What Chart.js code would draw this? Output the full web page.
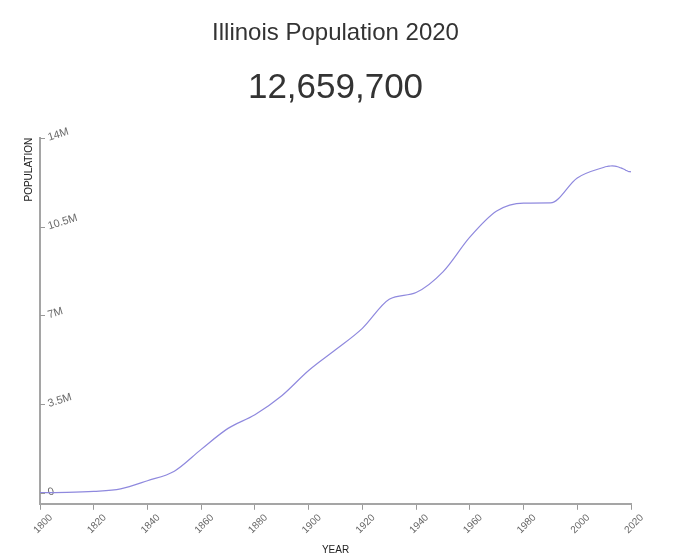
<!DOCTYPE html>
<html>
<head>
<meta charset="utf-8">
<title>Illinois Population</title>
<script src="https://cdn.jsdelivr.net/npm/chart.js@4"></script>
<style>
  html, body { margin: 0; padding: 0; background: #fff; }
  #wrap { width: 676px; height: 560px; }
</style>
</head>
<body>
<div id="wrap"><canvas id="popChart" width="676" height="560"></canvas></div>
<script>
// census + yearly estimates
const years = [1800, 1810, 1820, 1830, 1840, 1850, 1860, 1870, 1880, 1890, 1900,
               1910, 1920, 1930, 1940, 1950, 1960, 1970, 1980, 1990, 2000,
               2010, 2011, 2012, 2013, 2014, 2015, 2016, 2017, 2018, 2019, 2020];
const population = [2458, 12282, 55211, 157445, 476183, 851470, 1711951, 2539891, 3077871, 3826352, 4821550,
                    5638591, 6485280, 7630654, 7897241, 8712176, 10081158, 11113976, 11426518, 11430602, 12419293,
                    12840503, 12867454, 12882510, 12895129, 12884493, 12858913, 12820527, 12778828, 12723071, 12671821, 12659700];
const popTicks = [0, 3500000, 7000000, 10500000, 14000000];
const yearTicks = [1800, 1820, 1840, 1860, 1880, 1900, 1920, 1940, 1960, 1980, 2000, 2020];

const font = '"Liberation Sans", Arial, sans-serif';

// small tick marks on the inner side of the y axis
const innerTicks = {
    id: 'innerTicks',
    afterDraw(chart) {
        const y = chart.scales.y;
        const c = chart.ctx;
        const left = chart.chartArea.left;
        c.save();
        c.strokeStyle = '#999';
        c.lineWidth = 1;
        for (const v of popTicks) {
            const py = Math.round(y.getPixelForValue(v)) + 0.5;
            c.beginPath();
            c.moveTo(left, py);
            c.lineTo(left + 5, py);
            c.stroke();
        }
        c.restore();
    }
};

new Chart(document.getElementById('popChart'), {
    type: 'line',
    data: {
        datasets: [{
            label: 'Population',
            data: years.map((yr, i) => ({ x: yr, y: population[i] })),
            borderColor: '#8f89de',
            borderWidth: 1.2,
            pointRadius: 0,
            fill: false,
            cubicInterpolationMode: 'monotone'
        }]
    },
    options: {
        responsive: false,
        animation: false,
        layout: { padding: { left: 23, right: 45, top: 0, bottom: 4 } },
        plugins: {
            legend: { display: false },
            tooltip: { enabled: false },
            title: {
                display: true,
                fullSize: false,
                text: 'Illinois Population 2020',
                color: '#333',
                font: { family: font, size: 24, weight: 'normal' },
                padding: { top: 19, bottom: 0 }
            },
            subtitle: {
                display: true,
                fullSize: false,
                text: '12,659,700',
                color: '#333',
                font: { family: font, size: 35, weight: 'normal' },
                padding: { top: 20, bottom: 28 }
            }
        },
        scales: {
            x: {
                type: 'linear',
                min: 1800,
                max: 2020,
                afterBuildTicks: s => { s.ticks = yearTicks.map(v => ({ value: v })); },
                afterFit: s => { s.paddingLeft = 0; s.paddingRight = 0; },
                border: { color: '#a5a5a5', width: 2 },
                grid: { drawOnChartArea: false, tickLength: 6, tickColor: '#999' },
                ticks: {
                    minRotation: 45,
                    maxRotation: 45,
                    labelOffset: 11,
                    padding: 2,
                    color: '#666',
                    font: { family: font, size: 10 },
                    callback: v => String(v)
                },
                title: {
                    display: true,
                    text: 'YEAR',
                    color: '#222',
                    font: { family: font, size: 10 },
                    padding: { top: 6, bottom: 0 }
                }
            },
            y: {
                min: -434000,
                max: 14000000,
                afterBuildTicks: s => { s.ticks = popTicks.map(v => ({ value: v })); },
                afterFit: s => { s.width = 17; },
                border: { color: '#a5a5a5', width: 2 },
                grid: { display: false },
                ticks: {
                    mirror: true,
                    padding: 8,
                    minRotation: 17,
                    maxRotation: 17,
                    color: '#6a6a6a',
                    font: { family: font, size: 11 },
                    callback: v => v === 0 ? '0' : (v / 1e6) + 'M'
                },
                title: {
                    display: true,
                    text: 'POPULATION',
                    align: 'end',
                    color: '#222',
                    font: { family: font, size: 10 },
                    padding: { top: 0, bottom: 6 }
                }
            }
        }
    },
    plugins: [innerTicks]
});
</script>
</body>
</html>
